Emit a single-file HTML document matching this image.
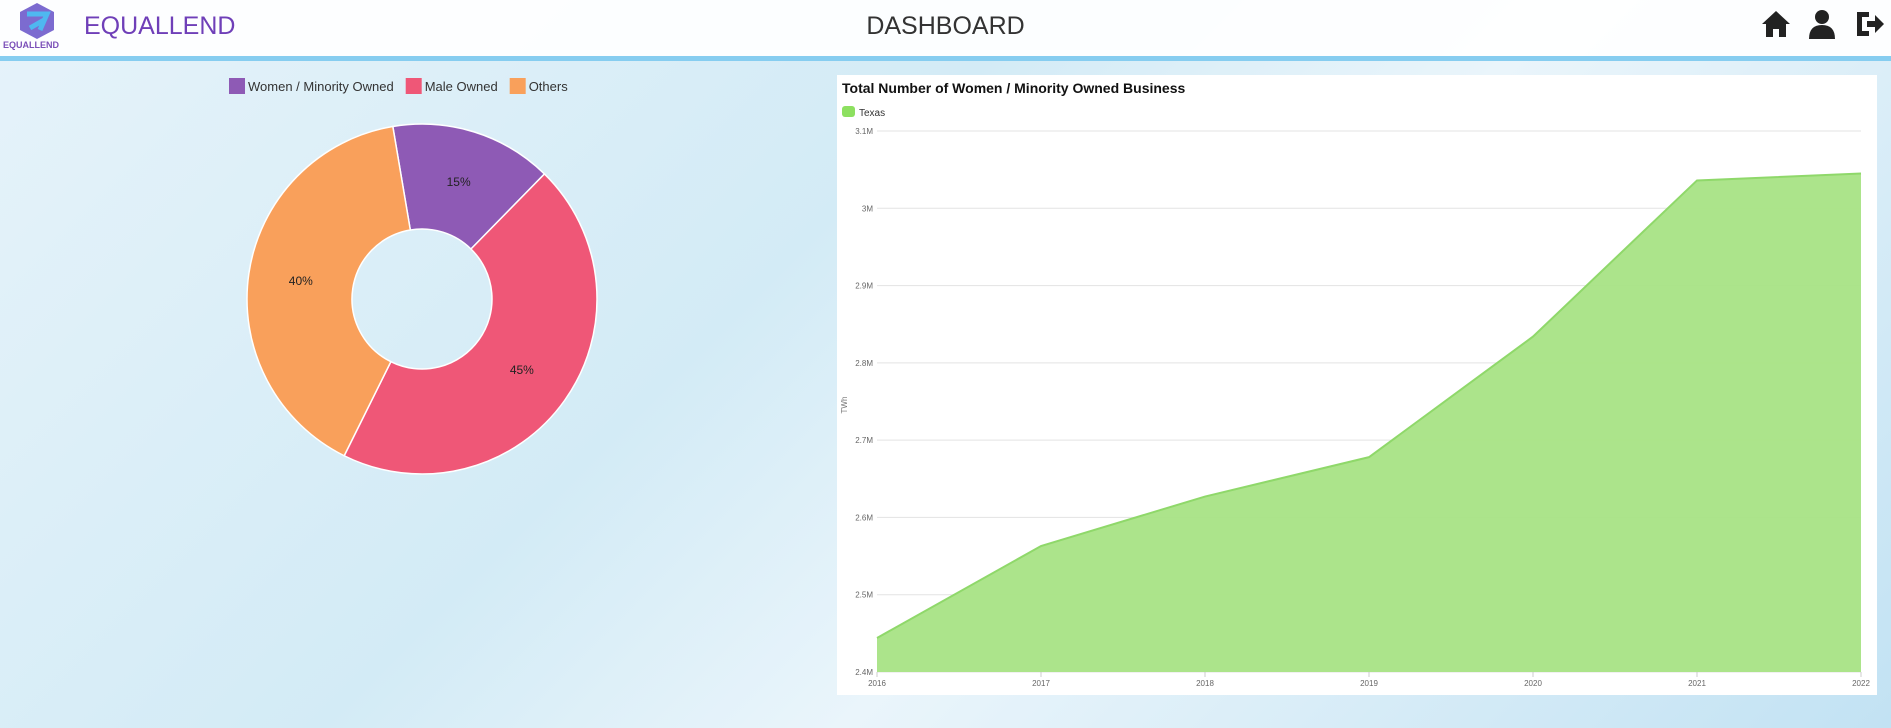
<!DOCTYPE html>
<html><head><meta charset="utf-8"><style>
body{margin:0;width:1891px;height:728px;overflow:hidden;font-family:"Liberation Sans",sans-serif;background:linear-gradient(135deg,#e6f3fa 0%,#d3ebf6 40%,#eaf5fb 60%,#c2e2f3 100%);position:relative}
#hdr{position:absolute;left:0;top:0;width:1891px;height:56px;background:rgba(255,255,255,0.92);border-bottom:5px solid #86cdf0}
</style></head><body>
<div id="hdr">
 <svg style="position:absolute;left:10px;top:2px" width="55" height="38" viewBox="0 0 55 38"><polygon points="27,1 44,10 44,28 27,37 10,28 10,10" fill="#7c6bd0"/><path d="M17 12 L37 12 L30 28 M20 26 L34 18" stroke="#4fb8f0" stroke-width="5" fill="none"/></svg>
 <div style="position:absolute;left:3px;top:40px;font-size:9px;font-weight:bold;color:#7b4fb8">EQUALLEND</div>
 <div style="position:absolute;left:84px;top:12px;font-size:25px;color:#6f3fb8">EQUALLEND</div>
 <div style="position:absolute;left:0;width:1891px;text-align:center;top:12px;font-size:25px;color:#333">DASHBOARD</div>
 <svg style="position:absolute;left:1761px;top:10px" width="30" height="28" viewBox="0 0 30 28"><polygon points="15,1 29,14 25,14 25,27 18,27 18,19 12,19 12,27 5,27 5,14 1,14" fill="#222"/></svg>
 <svg style="position:absolute;left:1808px;top:9px" width="28" height="30" viewBox="0 0 28 30"><circle cx="14" cy="8" r="7" fill="#222"/><path d="M1 30 Q1 16 14 16 Q27 16 27 30Z" fill="#222"/></svg>
 <svg style="position:absolute;left:1855px;top:10px" width="30" height="28" viewBox="0 0 30 28"><path d="M2 2 H14 V7 H7 V21 H14 V26 H2Z" fill="#222"/><polygon points="12,11 20,11 20,5 29,14 20,23 20,17 12,17" fill="#222"/></svg>
</div>
<svg id="donut" style="position:absolute;left:0;top:61px" width="830" height="667"></svg>
<div style="position:absolute;left:837px;top:75px;width:1040px;height:620px;background:#fff"></div>
<svg id="area" style="position:absolute;left:837px;top:75px" width="1040" height="620"></svg>
<script>
const NS='http://www.w3.org/2000/svg';
function mk(p,t,a){const e=document.createElementNS(NS,t);for(const k in a)e.setAttribute(k,a[k]);p.appendChild(e);return e;}
// donut data
const sliceLabels=['Women / Minority Owned','Male Owned','Others'];
const sliceValues=[15,45,40];
const sliceColors=['#8e5ab5','#ef5777','#f9a05b'];
const d=document.getElementById('donut');
const cx=422,cy=238,R=175,r=70,start=-9.6;
let lx=229;
sliceLabels.forEach((l,i)=>{
 const sq=mk(d,'rect',{x:lx,y:17,width:16,height:16,fill:sliceColors[i]});
 
 
 const t=mk(d,'text',{x:lx+19,y:30,'font-size':13,fill:'#333'});t.textContent=l;
 
 
 lx+=19+t.getComputedTextLength()+12;
});
const tot=sliceValues.reduce((a,b)=>a+b,0);let a0=start;
sliceValues.forEach((v,i)=>{
 const a1=a0+v/tot*360;const rad=x=>(x-90)*Math.PI/180;
 const P=(rr,a)=>[cx+rr*Math.cos(rad(a)),cy+rr*Math.sin(rad(a))];
 const [x0,y0]=P(R,a0),[x1,y1]=P(R,a1),[x2,y2]=P(r,a1),[x3,y3]=P(r,a0);const lg=a1-a0>180?1:0;
 const p=mk(d,'path',{d:`M${x0} ${y0}A${R} ${R} 0 ${lg} 1 ${x1} ${y1}L${x2} ${y2}A${r} ${r} 0 ${lg} 0 ${x3} ${y3}Z`,fill:sliceColors[i],stroke:'#fff','stroke-width':1.5});
 
 
 const [tx,ty]=P((R+r)/2,(a0+a1)/2);
 const t=mk(d,'text',{x:tx,y:ty+4,'text-anchor':'middle','font-size':12,fill:'#222'});t.textContent=v+'%';
 
 
 a0=a1;
});
// area data
const years=['2016','2017','2018','2019','2020','2021','2022'];
const texasValues=[2.444,2.563,2.627,2.678,2.834,3.036,3.045];
const yTicks=[2.4,2.5,2.6,2.7,2.8,2.9,3.0,3.1];
const yTickLabels=['2.4M','2.5M','2.6M','2.7M','2.8M','2.9M','3M','3.1M'];
const s=document.getElementById('area');
const L=40,Rr=1024,T=56,B=597;
const X=i=>L+i*(Rr-L)/(years.length-1);
const Y=v=>B-(v-2.4)/(3.1-2.4)*(B-T);
const ti=mk(s,'text',{x:5,y:18,'font-size':14,'font-weight':'bold',fill:'#111'});ti.textContent='Total Number of Women / Minority Owned Business';


const ls=mk(s,'rect',{x:5,y:31,width:13,height:11,rx:3,fill:'#8de060'});


const lt=mk(s,'text',{x:22,y:41,'font-size':10,fill:'#333'});lt.textContent='Texas';


yTicks.forEach((v,i)=>{
 const g=mk(s,'line',{x1:L,x2:Rr,y1:Y(v),y2:Y(v),stroke:'#e3e3e3'});
 
 
 const t=mk(s,'text',{x:L-4,y:Y(v)+3,'text-anchor':'end','font-size':8,fill:'#666'});t.textContent=yTickLabels[i];
 
 
});
let pd=`M${X(0)} ${Y(2.4)}`;texasValues.forEach((v,i)=>pd+=`L${X(i)} ${Y(v)}`);pd+=`L${X(years.length-1)} ${Y(2.4)}Z`;
const ar=mk(s,'path',{d:pd,fill:'#a8e385',opacity:0.95});


let ln='';texasValues.forEach((v,i)=>ln+=(i?'L':'M')+X(i)+' '+Y(v));
const li=mk(s,'path',{d:ln,fill:'none',stroke:'#8fd86a','stroke-width':2});


years.forEach((y,i)=>{
 const tk=mk(s,'line',{x1:X(i),x2:X(i),y1:B,y2:B+5,stroke:'#ccc'});
 
 
 const t=mk(s,'text',{x:X(i),y:B+14,'text-anchor':'middle','font-size':8,fill:'#666'});t.textContent=y;
 
 
});
const yt=mk(s,'text',{x:10,y:330,'font-size':8,fill:'#777',transform:'rotate(-90 10 330)','text-anchor':'middle'});yt.textContent='TWh';


</script>
</body></html>
